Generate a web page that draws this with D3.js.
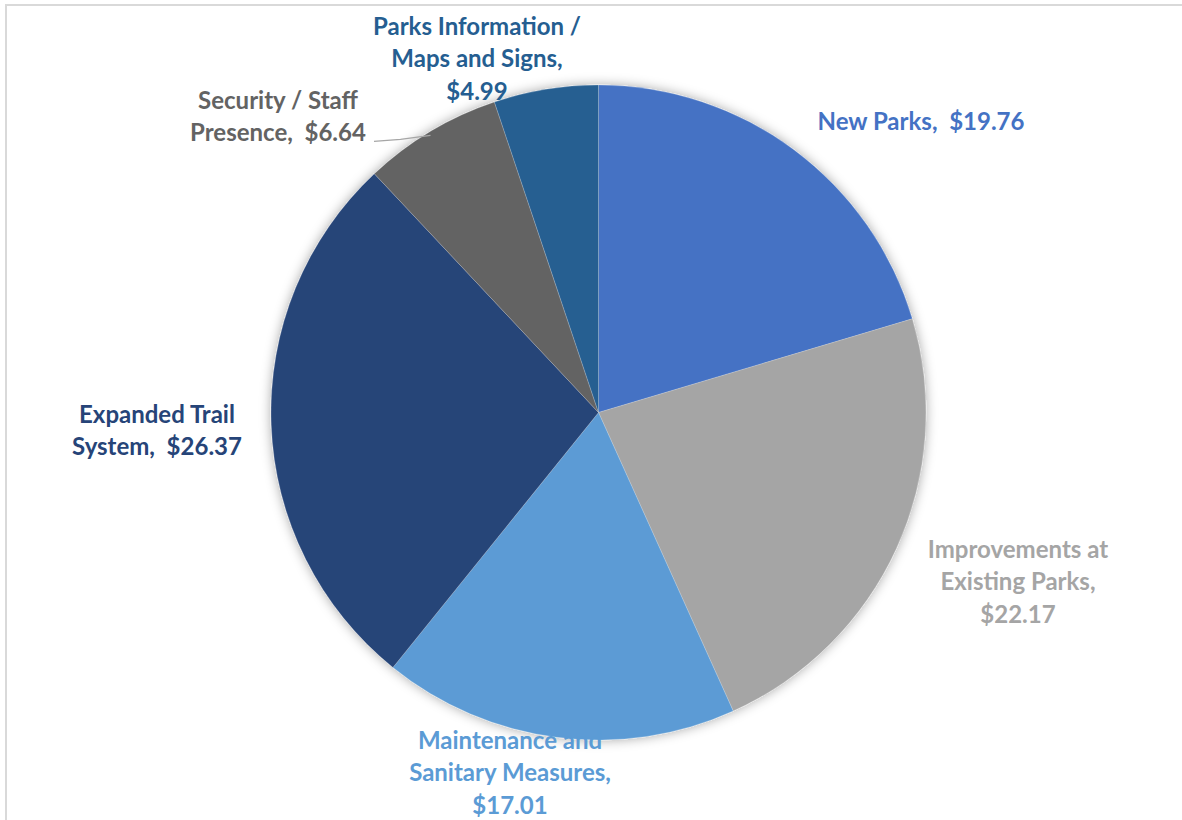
<!DOCTYPE html>
<html>
<head>
<meta charset="utf-8">
<script src="https://cdn.jsdelivr.net/npm/d3@7"></script>
<style>
  body { margin: 0; background: #fff; }
  svg { display: block; }
</style>
</head>
<body>
<svg id="chart" width="1182" height="820"></svg>
<script>
// data, clockwise from 12 o'clock
const categories = ['New Parks', 'Improvements at Existing Parks', 'Maintenance and Sanitary Measures',
                    'Expanded Trail System', 'Security / Staff Presence', 'Parks Information / Maps and Signs'];
const values = [19.76, 22.17, 17.01, 26.37, 6.64, 4.99];
const colors = ['#4472C4', '#A5A5A5', '#5B9BD5', '#264478', '#636363', '#255E91'];
// label lines as shown in the chart
const labelLines = [
    ['New Parks,  $19.76'],
    ['Improvements at', 'Existing Parks,', '$22.17'],
    ['Maintenance and', 'Sanitary Measures,', '$17.01'],
    ['Expanded Trail', 'System,  $26.37'],
    ['Security / Staff', 'Presence,  $6.64'],
    ['Parks Information /', 'Maps and Signs,', '$4.99']
];
// label anchor points (centre of the text block)
const labelPos = [[921, 120], [1018, 580], [510, 771], [157, 429], [278, 115], [477, 57]];

const svg = d3.select('#chart');
const cx = 598.5, cy = 412.5, radius = 327.5;

// chart frame
svg.append('rect')
    .attr('x', 6).attr('y', 5)
    .attr('width', 1200).attr('height', 840)
    .attr('fill', 'none')
    .attr('stroke', '#d9d9d9')
    .attr('stroke-width', 2);

const defs = svg.append('defs');
const filt = defs.append('filter').attr('id', 'shadow')
    .attr('x', '-10%').attr('y', '-10%').attr('width', '120%').attr('height', '120%');
filt.append('feDropShadow')
    .attr('dx', 0).attr('dy', 0)
    .attr('stdDeviation', 6)
    .attr('flood-color', '#000')
    .attr('flood-opacity', 0.35);

const pie = d3.pie().sort(null).value(d => d);
const arc = d3.arc().innerRadius(0).outerRadius(radius);
const arcs = pie(values);

const g = svg.append('g').attr('transform', `translate(${cx},${cy})`);

g.append('g').attr('filter', 'url(#shadow)')
  .selectAll('path')
  .data(arcs)
  .enter().append('path')
    .attr('d', arc)
    .style('fill', (d, i) => colors[i])
    .attr('stroke', '#ffffff')
    .attr('stroke-opacity', 0.25)
    .attr('stroke-width', 0.8);

// leader line for the Security slice
const secArc = arcs[4];
const midA = (secArc.startAngle + secArc.endAngle) / 2;
const edge = [Math.sin(midA) * radius + cx, -Math.cos(midA) * radius + cy];
svg.append('polyline')
    .attr('points', `${edge[0]},${edge[1] + 4} ${edge[0] - 30},${edge[1] + 8} 374,${edge[1] + 10}`)
    .attr('fill', 'none')
    .attr('stroke', '#a6a6a6')
    .attr('stroke-width', 1.3);

// labels
const lineH = 32.5;
svg.append('g').selectAll('text')
  .data(labelLines)
  .enter().append('text')
    .attr('x', (d, i) => labelPos[i][0])
    .attr('y', (d, i) => labelPos[i][1] - (d.length - 1) * lineH / 2)
    .attr('text-anchor', 'middle')
    .attr('dominant-baseline', 'central')
    .style('white-space', 'pre')
    .style('font-family', 'Lato, "Open Sans", sans-serif')
    .style('font-weight', 'bold')
    .style('font-size', '24px')
    .style('fill', (d, i) => colors[i])
    .each(function(lines) {
        const t = d3.select(this);
        const x = t.attr('x');
        lines.forEach((ln, k) => {
            t.append('tspan').attr('x', x).attr('dy', k === 0 ? 0 : lineH).text(ln);
        });
    });
</script>
</body>
</html>
